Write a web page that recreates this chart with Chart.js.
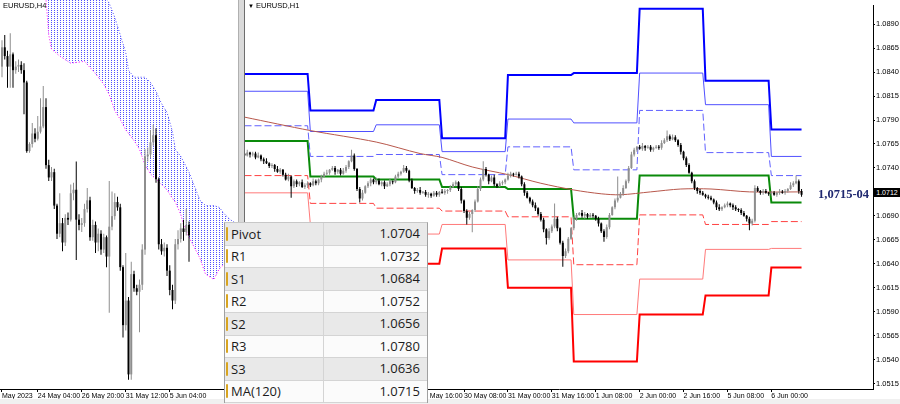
<!DOCTYPE html>
<html>
<head>
<meta charset="utf-8">
<script src="https://cdn.jsdelivr.net/npm/chart.js@4.4.1/dist/chart.umd.min.js"></script>
<style>
  body { margin: 0; width: 900px; height: 404px; overflow: hidden; background: #fff; position: relative; font-family: 'Liberation Sans', Arial, sans-serif; }
  canvas { position: absolute; top: 0; }
  #h4 { left: 0; }
  #h1 { left: 245px; }
  .title { position: absolute; top: 1px; font-size: 7.5px; line-height: 9px; color: #000; white-space: nowrap; }
  #splitter { position: absolute; left: 238px; top: 0; width: 5px; height: 404px; background: #dadada; border-left: 1px solid #b0b0b0; border-right: 1px solid #6d6d6d; }
  #status { position: absolute; left: 0; top: 399px; width: 900px; height: 5px; background: #f0f0f0; }
  #levelTag { position: absolute; left: 818px; top: 187px; font: bold 12.5px 'Liberation Serif', 'Times New Roman', serif; color: #1f2870; white-space: nowrap; }
  #priceTag { position: absolute; left: 874px; top: 188px; width: 26px; height: 9px; background: #000; color: #fff; font-size: 7px; line-height: 9px; text-align: center; }
  #levels { position: absolute; left: 224px; top: 222px; width: 202px; border-left: 1px solid #a0a0a0; border-right: 1px solid #a0a0a0; border-top: 1px solid #c8c8c8; font-family: 'Open Sans', sans-serif; font-size: 13px; color: #1b1b1b; }
  .row { display: flex; height: 22.5px; box-sizing: border-box; border-bottom: 1px solid #d4d4d4; }
  .row:nth-child(odd) { background: #e9e9e9; }
  .row:nth-child(even) { background: #fbfbfb; }
  .name { width: 98px; border-right: 1px solid #d4d4d4; display: flex; align-items: center; }
  .val { flex: 1; text-align: right; padding-right: 7px; line-height: 21px; }
  .icon { width: 0; height: 14px; margin: 0 3px 0 1px; border-left: 2px solid #d9a520; border-radius: 2px; }
</style>
</head>
<body>
<canvas id="h4" width="237" height="404"></canvas>
<canvas id="h1" width="655" height="404"></canvas>
<div id="splitter"></div>
<div class="title" style="left:3px">EURUSD,H4</div>
<div class="title" style="left:248px"><span style="font-size:6px">&#9660;</span> EURUSD,H1</div>
<div id="levelTag">1,0715-04</div>
<div id="priceTag">1.0712</div>
<div id="status"></div>
<div id="levels"></div>

<script>
// ---------- H4 panel (left) ----------
const h4FirstOpen = 1.0812;
const h4Close = [
  1.0823, 1.0818, 1.0812, 1.0819, 1.0810, 1.0812, 1.0813, 1.0810, 1.0803, 1.0764,
  1.0768, 1.0774, 1.0771, 1.0775, 1.0778, 1.0789, 1.0756, 1.0749, 1.0752, 1.0733,
  1.0717, 1.0723, 1.0712, 1.0726, 1.0725, 1.0740, 1.0742, 1.0725, 1.0722, 1.0723,
  1.0731, 1.0736, 1.0715, 1.0722, 1.0712, 1.0717, 1.0708, 1.0715, 1.0704, 1.0721,
  1.0727, 1.0735, 1.0732, 1.0698, 1.0665, 1.0679, 1.0637, 1.0694, 1.0686, 1.0684,
  1.0688, 1.0708, 1.0761, 1.0762, 1.0769, 1.0773, 1.0748, 1.0711, 1.0707, 1.0709,
  1.0696, 1.0685, 1.0679, 1.0711, 1.0714, 1.0720, 1.0718, 1.0722, 1.0716
];
// wick lengths above / below the body, in pips
const h4UpWick = [
  4, 7, 3, 12, 1, 3, 3, 2, 4, 1, 1, 6, 3, 9, 16, 12, 5, 3, 3, 2,
  1, 17, 3, 2, 3, 5, 4, 16, 3, 3, 3, 7, 2, 3, 2, 3, 2, 2, 1, 26,
  14, 5, 3, 2, 1, 27, 2, 7, 2, 2, 3, 3, 4, 4, 7, 6, 4, 1, 3, 3,
  2, 3, 3, 3, 5, 3, 5, 9, 2
];
const h4DnWick = [
  6, 2, 12, 12, 10, 2, 3, 2, 18, 1, 1, 2, 2, 1, 1, 1, 2, 2, 2, 2,
  3, 2, 5, 2, 3, 1, 4, 23, 3, 4, 2, 2, 2, 2, 6, 5, 3, 2, 6, 32,
  2, 2, 2, 2, 7, 3, 3, 3, 2, 2, 23, 3, 3, 3, 2, 2, 2, 3, 2, 3,
  3, 3, 5, 2, 3, 2, 5, 2, 15
];
// Ichimoku cloud edges (bar index, price)
const cloudBars = [15, 16, 17, 18, 21, 25, 30, 34, 37, 39, 41, 43, 45, 46, 48, 50, 52, 54, 56, 58, 60, 62, 63, 65, 66, 68, 70, 72, 74, 77, 79, 81, 83, 87];
const cloudTop = [
  1.0870, 1.0870, 1.0870, 1.0869, 1.0868, 1.0866, 1.0864, 1.0862, 1.0853, 1.0848,
  1.0840, 1.0830, 1.0820, 1.0810, 1.0806, 1.0806, 1.0806, 1.0803, 1.0798, 1.0791,
  1.0786, 1.0775, 1.0765, 1.0761, 1.0758, 1.0752, 1.0744, 1.0736, 1.0733, 1.0733,
  1.0732, 1.0728, 1.0725, 1.0721
];
const cloudBottom = [
  1.0858, 1.0850, 1.0830, 1.0822, 1.0818, 1.0814, 1.0815, 1.0808, 1.0802, 1.0796,
  1.0787, 1.0782, 1.0776, 1.0774, 1.0770, 1.0765, 1.0756, 1.0751, 1.0748, 1.0745,
  1.0742, 1.0737, 1.0735, 1.0728, 1.0722, 1.0715, 1.0709, 1.0703, 1.0694, 1.0691,
  1.0697, 1.0700, 1.0701, 1.0703
];
const h4TickBars = [0, 13, 29, 45, 61];
const h4TickLabels = ['May 2023', '24 May 04:00', '26 May 20:00', '31 May 12:00', '5 Jun 04:00'];

// ---------- H1 panel (right) ----------
const h1FirstOpen = 1.0755;
const h1Close = [
  1.0753, 1.0756, 1.0754, 1.0755, 1.0751, 1.0753, 1.0749, 1.0747, 1.0745, 1.0742,
  1.0743, 1.0739, 1.0736, 1.0738, 1.0733, 1.0728, 1.0731, 1.0721, 1.0726, 1.0723,
  1.0725, 1.0720, 1.0722, 1.0724, 1.0722, 1.0726, 1.0724, 1.0728, 1.0731, 1.0734,
  1.0735, 1.0738, 1.0740, 1.0736, 1.0738, 1.0734, 1.0737, 1.0741, 1.0747, 1.0753,
  1.0739, 1.0718, 1.0708, 1.0714, 1.0721, 1.0724, 1.0728, 1.0725, 1.0727, 1.0723,
  1.0725, 1.0721, 1.0723, 1.0726, 1.0725, 1.0731, 1.0734, 1.0736, 1.0740, 1.0737,
  1.0727, 1.0719, 1.0716, 1.0717, 1.0714, 1.0715, 1.0712, 1.0713, 1.0711, 1.0714,
  1.0712, 1.0715, 1.0714, 1.0716, 1.0717, 1.0720, 1.0723, 1.0725, 1.0718, 1.0706,
  1.0695, 1.0688, 1.0692, 1.0696, 1.0705, 1.0718, 1.0728, 1.0739, 1.0733, 1.0726,
  1.0730, 1.0723, 1.0721, 1.0724, 1.0725, 1.0728, 1.0732, 1.0734, 1.0733, 1.0734,
  1.0731, 1.0723, 1.0714, 1.0709, 1.0705, 1.0701, 1.0698, 1.0692, 1.0686, 1.0676,
  1.0667, 1.0674, 1.0679, 1.0687, 1.0677, 1.0662, 1.0648, 1.0653, 1.0666, 1.0677,
  1.0687, 1.0691, 1.0693, 1.0690, 1.0692, 1.0689, 1.0691, 1.0690, 1.0687, 1.0682,
  1.0674, 1.0668, 1.0678, 1.0691, 1.0699, 1.0706, 1.0709, 1.0713, 1.0719, 1.0726,
  1.0740, 1.0754, 1.0759, 1.0762, 1.0760, 1.0763, 1.0761, 1.0762, 1.0759, 1.0761,
  1.0762, 1.0761, 1.0766, 1.0769, 1.0773, 1.0770, 1.0772, 1.0769, 1.0764, 1.0757,
  1.0750, 1.0743, 1.0735, 1.0726, 1.0719, 1.0716, 1.0714, 1.0712, 1.0710, 1.0709,
  1.0707, 1.0704, 1.0699, 1.0697, 1.0699, 1.0701, 1.0703, 1.0701, 1.0699, 1.0697,
  1.0696, 1.0693, 1.0690, 1.0687, 1.0682, 1.0685, 1.0719, 1.0716, 1.0714, 1.0716,
  1.0714, 1.0713, 1.0714, 1.0712, 1.0714, 1.0715, 1.0714, 1.0716, 1.0718, 1.0722,
  1.0724, 1.0726, 1.0716, 1.0712
];
const h1UpWick = [
  2, 3, 1, 2, 2, 3, 1, 2, 3, 1, 2, 1, 3, 2, 1, 2, 3, 1, 2, 2,
  1, 3, 2, 2, 1, 3, 2, 1, 2, 2, 3, 1, 2, 2, 1, 2, 3, 2, 1, 6,
  2, 1, 2, 3, 1, 2, 2, 1, 3, 2, 1, 2, 2, 3, 1, 2, 2, 1, 3, 2,
  1, 2, 1, 2, 3, 1, 2, 2, 1, 2, 2, 1, 3, 2, 1, 2, 2, 2, 1, 2,
  1, 2, 2, 1, 2, 3, 2, 8, 2, 1, 2, 3, 1, 2, 2, 1, 3, 2, 1, 2,
  2, 1, 2, 2, 1, 2, 3, 1, 2, 2, 1, 3, 2, 16, 2, 1, 2, 3, 2, 1,
  2, 2, 1, 3, 2, 1, 2, 2, 1, 2, 1, 2, 3, 2, 1, 2, 22, 2, 3, 2,
  2, 3, 2, 1, 2, 3, 1, 2, 2, 1, 2, 2, 3, 2, 6, 2, 3, 2, 1, 2,
  1, 2, 2, 1, 2, 1, 2, 2, 1, 2, 2, 1, 2, 3, 1, 2, 2, 1, 2, 2,
  1, 2, 2, 1, 2, 2, 3, 2, 1, 2, 2, 1, 2, 2, 1, 3, 2, 2, 1, 3,
  2, 6, 2, 2
];
const h1DnWick = [
  2, 1, 3, 2, 2, 1, 2, 3, 1, 2, 2, 3, 1, 2, 2, 1, 2, 12, 2, 3,
  2, 1, 2, 3, 2, 1, 2, 2, 3, 1, 2, 2, 1, 3, 2, 2, 1, 2, 2, 1,
  2, 2, 4, 2, 1, 2, 3, 2, 2, 1, 2, 3, 1, 2, 2, 1, 2, 2, 1, 2,
  2, 1, 3, 2, 2, 1, 2, 3, 2, 1, 2, 2, 1, 2, 3, 2, 1, 2, 2, 3,
  2, 7, 2, 19, 2, 1, 2, 2, 2, 3, 1, 2, 2, 1, 2, 2, 1, 2, 2, 1,
  2, 2, 3, 1, 2, 2, 3, 2, 2, 3, 7, 2, 2, 2, 3, 2, 11, 2, 2, 1,
  2, 2, 1, 2, 3, 2, 1, 2, 2, 3, 2, 5, 2, 2, 1, 2, 2, 1, 2, 1,
  2, 1, 2, 2, 1, 2, 3, 1, 2, 2, 1, 2, 2, 1, 2, 2, 1, 2, 2, 3,
  2, 2, 1, 2, 2, 3, 2, 1, 2, 2, 1, 2, 3, 2, 2, 1, 2, 2, 3, 2,
  2, 2, 1, 3, 7, 2, 2, 1, 2, 2, 1, 2, 2, 1, 2, 2, 1, 2, 2, 1,
  2, 1, 3, 2
];
// daily pivot levels, one value per trading day
const dayStartBars = [0, 24, 48, 72, 96, 120, 144, 168, 192];
const levelR3 = [1.0838, 1.0800, 1.0811, 1.0771, 1.0837, 1.0839, 1.0906, 1.0831, 1.0780];
const levelR2 = [1.0820, 1.0778, 1.0785, 1.0757, 1.0791, 1.0787, 1.0839, 1.0806, 1.0752];
const levelR1 = [1.0784, 1.0752, 1.0754, 1.0733, 1.0762, 1.0738, 1.0800, 1.0756, 1.0732];
const levelPivot = [1.0768, 1.0731, 1.0728, 1.0720, 1.0718, 1.0687, 1.0732, 1.0732, 1.0704];
const levelS1 = [1.0732, 1.0703, 1.0698, 1.0695, 1.0689, 1.0639, 1.0691, 1.0681, 1.0684];
const levelS2 = [1.0714, 1.0681, 1.0671, 1.0681, 1.0644, 1.0587, 1.0624, 1.0655, 1.0656];
const levelS3 = [1.0679, 1.0653, 1.0640, 1.0656, 1.0615, 1.0538, 1.0587, 1.0607, 1.0636];
// MA(120) sampled along the chart
const maBars = [0, 24, 48, 64, 72, 83, 96, 108, 120, 130, 137, 148, 159, 170, 184, 203];
const maValues = [1.0793, 1.0779, 1.0767, 1.0755, 1.0751, 1.0741, 1.0733, 1.0724, 1.0717, 1.0713, 1.0712, 1.0715, 1.0718, 1.0718, 1.0715, 1.0715];
const h1TickBars = [64, 80, 96, 112, 128, 144, 160, 176, 192];
const h1TickLabels = ['29 May 16:00', '30 May 08:00', '31 May 00:00', '31 May 16:00', '1 Jun 08:00', '2 Jun 00:00', '2 Jun 16:00', '5 Jun 08:00', '6 Jun 00:00'];
const h1PriceTicks = [1.0515, 1.0540, 1.0565, 1.0590, 1.0615, 1.0640, 1.0665, 1.0690, 1.0715, 1.0740, 1.0765, 1.0790, 1.0815, 1.0840, 1.0865, 1.0890];

// levels table
const tableNames = ['Pivot', 'R1', 'S1', 'R2', 'S2', 'R3', 'S3', 'MA(120)'];
const tableValues = ['1.0704', '1.0732', '1.0684', '1.0752', '1.0656', '1.0780', '1.0636', '1.0715'];

const BULL = '#8e8e8e';
const BEAR = '#000000';

Chart.defaults.font.family = "'Liberation Sans', Arial, sans-serif";
Chart.defaults.color = '#000';

// Build candle bodies and wicks (open = previous close)
function buildCandles(firstOpen, closes, upWick, dnWick) {
  const bodies = [];
  const wicks = [];
  const colors = [];
  let open = firstOpen;
  closes.forEach((close, i) => {
    const hi = Math.max(open, close) + upWick[i] / 10000;
    const lo = Math.min(open, close) - dnWick[i] / 10000;
    bodies.push({ x: i, y: [open, close] });
    wicks.push({ x: i, y: [lo, hi] });
    colors.push(close >= open ? BULL : BEAR);
    open = close;
  });
  return { bodies, wicks, colors };
}

// Daily level -> flat segment per day
function stepLine(levels, lastBar) {
  const pts = [];
  levels.forEach((v, d) => {
    const end = d + 1 < dayStartBars.length ? dayStartBars[d + 1] - 1 : lastBar;
    pts.push({ x: dayStartBars[d], y: v }, { x: end, y: v });
  });
  return pts;
}

function xAxis(min, max, tickBars, tickLabels) {
  return {
    type: 'linear', min, max, offset: false,
    grid: { display: true, drawOnChartArea: false, offset: false, tickLength: 3, color: '#000' },
    border: { display: true, color: '#000' },
    ticks: {
      align: 'start', maxRotation: 0, autoSkip: false, padding: 0,
      font: { size: 7 }, color: '#000',
      callback: (v) => tickLabels[tickBars.indexOf(v)] || ''
    },
    afterBuildTicks: (s) => { s.ticks = tickBars.map(v => ({ value: v })); },
    afterFit: (s) => { s.height = 15; }
  };
}

const candleOpts = { grouped: false, inflateAmount: 0, borderWidth: 0 };

// ---------- left chart ----------
const h4Ctx = document.getElementById('h4').getContext('2d');
const dotCanvas = document.createElement('canvas');
dotCanvas.width = 3;
dotCanvas.height = 2;
const dotCtx = dotCanvas.getContext('2d');
dotCtx.fillStyle = '#5050ff';
dotCtx.fillRect(0, 0, 1, 1);
const cloudPattern = h4Ctx.createPattern(dotCanvas, 'repeat');

const h4c = buildCandles(h4FirstOpen, h4Close, h4UpWick, h4DnWick);

new Chart(h4Ctx, {
  type: 'bar',
  data: {
    datasets: [
      { type: 'line', data: cloudBars.map((b, k) => ({ x: b, y: cloudTop[k] })), borderColor: '#4a4aff', borderWidth: 1, borderDash: [1, 2], pointRadius: 0, tension: 0, fill: false, order: 10 },
      { type: 'line', data: cloudBars.map((b, k) => ({ x: b, y: cloudBottom[k] })), borderColor: '#ff00ff', borderWidth: 1, borderDash: [1, 2], pointRadius: 0, tension: 0, fill: '-1', backgroundColor: cloudPattern, order: 9 },
      { data: h4c.wicks, backgroundColor: h4c.colors, barThickness: 1, order: 2, ...candleOpts },
      { data: h4c.bodies, backgroundColor: h4c.colors, barThickness: 2, minBarLength: 1, order: 1, ...candleOpts }
    ]
  },
  options: {
    responsive: false, animation: false,
    layout: { padding: 0, autoPadding: false },
    plugins: { legend: { display: false }, tooltip: { enabled: false } },
    scales: {
      x: xAxis(-0.727, 85.45, h4TickBars, h4TickLabels),
      y: { display: false, min: 1.06287, max: 1.08499 }
    }
  }
});

// ---------- right chart ----------
const h1c = buildCandles(h1FirstOpen, h1Close, h1UpWick, h1DnWick);
const lastBar = h1Close.length - 1;

function levelSet(levels, color, width, dash) {
  return { type: 'line', data: stepLine(levels, lastBar), borderColor: color, borderWidth: width, borderDash: dash || [], pointRadius: 0, tension: 0, fill: false, order: 4 };
}

new Chart(document.getElementById('h1'), {
  type: 'bar',
  data: {
    datasets: [
      { type: 'line', data: maBars.map((b, k) => ({ x: b, y: maValues[k] })), borderColor: '#b8584c', borderWidth: 1, pointRadius: 0, tension: 0.3, fill: false, order: 3 },
      levelSet(levelR3, '#0000ff', 2),
      levelSet(levelR2, '#5050ff', 1),
      levelSet(levelR1, '#6060ff', 1, [7, 3]),
      levelSet(levelPivot, '#0a8a0a', 2),
      levelSet(levelS1, '#ff4040', 1, [7, 3]),
      levelSet(levelS2, '#ff7a7a', 1),
      levelSet(levelS3, '#ff0000', 2),
      { data: h1c.wicks, backgroundColor: h1c.colors, barThickness: 1, order: 2, ...candleOpts },
      { data: h1c.bodies, backgroundColor: h1c.colors, barThickness: 2, minBarLength: 1, order: 1, ...candleOpts }
    ]
  },
  options: {
    responsive: false, animation: false,
    layout: { padding: 0, autoPadding: false },
    plugins: { legend: { display: false }, tooltip: { enabled: false } },
    scales: {
      x: xAxis(0.18, 229.04, h1TickBars, h1TickLabels),
      y: {
        position: 'right', min: 1.05093, max: 1.09095,
        grid: { display: true, drawOnChartArea: false, tickLength: 2, color: '#000' },
        border: { display: true, color: '#000' },
        ticks: { padding: 1, font: { size: 7.5 }, color: '#000', callback: (v) => v.toFixed(4) },
        afterBuildTicks: (s) => { s.ticks = h1PriceTicks.map(v => ({ value: v })); },
        afterFit: (s) => { s.width = 27; }
      }
    }
  }
});

// ---------- levels table ----------
const levelsEl = document.getElementById('levels');
tableNames.forEach((name, i) => {
  const row = document.createElement('div');
  row.className = 'row';
  row.innerHTML = `<div class="name"><span class="icon"></span>${name}</div><div class="val">${tableValues[i]}</div>`;
  levelsEl.appendChild(row);
});
</script>
</body>
</html>
